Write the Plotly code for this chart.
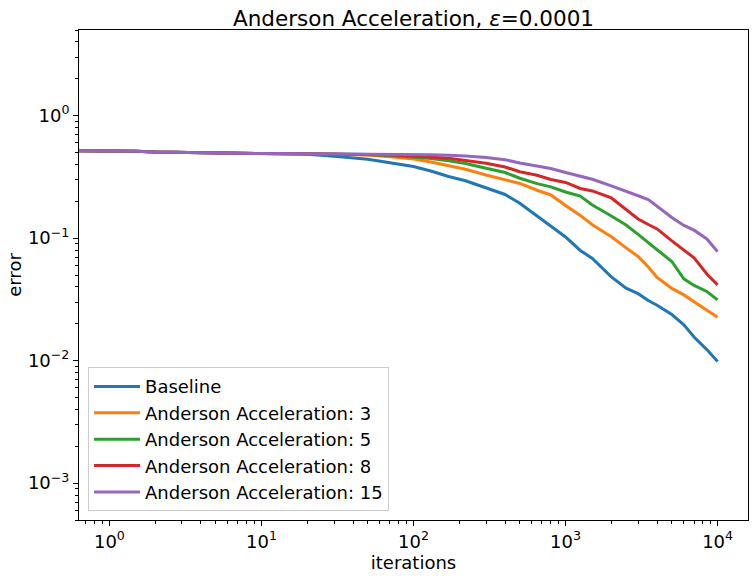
import plotly.graph_objects as go

# iterations (x) and error values
iterations = [0.6, 1, 1.5, 2, 3, 5, 10, 20, 30, 50, 70, 100, 130, 170, 220, 300, 400, 500,
              650, 800, 1000, 1250, 1500, 2000, 2500, 3000, 3500, 4000, 5000, 6000, 7000,
              8500, 10000]

early = [0.5173, 0.5173, 0.5115, 0.5048, 0.5000, 0.4926, 0.4908]

baseline = early + [0.4830, 0.4656, 0.4409, 0.4121, 0.3844, 0.3533, 0.3187, 0.2938, 0.2553,
                    0.2272, 0.1926, 0.1518, 0.1262, 0.1023, 0.0793, 0.0683, 0.0483, 0.0390,
                    0.0352, 0.0310, 0.0283, 0.0238, 0.0196, 0.0156, 0.0123, 0.00983]

aa3 = early + [0.4880, 0.4844, 0.4780, 0.4612, 0.4426, 0.4183, 0.3895, 0.3648, 0.3278,
               0.2984, 0.2794, 0.2459, 0.2251, 0.1848, 0.1532, 0.1286, 0.1026, 0.0832,
               0.0709, 0.0582, 0.0478, 0.0389, 0.0344, 0.0302, 0.0258, 0.0226]

aa5 = early + [0.4880, 0.4862, 0.4817, 0.4727, 0.4596, 0.4468, 0.4287, 0.4067, 0.3716,
               0.3435, 0.3081, 0.2783, 0.2620, 0.2380, 0.2201, 0.1866, 0.1518, 0.1281,
               0.1072, 0.0913, 0.0804, 0.0645, 0.0465, 0.0411, 0.0367, 0.0313]

aa8 = early + [0.4880, 0.4862, 0.4840, 0.4771, 0.4683, 0.4596, 0.4485, 0.4303, 0.4082,
               0.3808, 0.3480, 0.3258, 0.3012, 0.2847, 0.2543, 0.2427, 0.2128, 0.1714,
               0.1434, 0.1291, 0.1189, 0.0949, 0.0792, 0.0690, 0.0510, 0.0415]

aa15 = early + [0.4880, 0.4862, 0.4860, 0.4850, 0.4844, 0.4800, 0.4745, 0.4692, 0.4552,
                0.4368, 0.4106, 0.3880, 0.3703, 0.3435, 0.3187, 0.3023, 0.2666, 0.2390,
                0.2217, 0.2068, 0.1814, 0.1475, 0.1269, 0.1162, 0.0985, 0.0776]

series_names = ["Baseline", "Anderson Acceleration: 3", "Anderson Acceleration: 5",
                "Anderson Acceleration: 8", "Anderson Acceleration: 15"]
series_values = [baseline, aa3, aa5, aa8, aa15]
colors = ["#1f77b4", "#ff7f0e", "#2ca02c", "#d62728", "#9467bd"]

x_tick_vals = [1, 10, 100, 1000, 10000]
x_tick_text = ["10<sup>0</sup>", "10<sup>1</sup>", "10<sup>2</sup>", "10<sup>3</sup>", "10<sup>4</sup>"]
y_tick_vals = [0.001, 0.01, 0.1, 1]
y_tick_text = ["10<sup>\u22123</sup>", "10<sup>\u22122</sup>", "10<sup>\u22121</sup>", "10<sup>0</sup>"]

minor_x = [m * 10 ** e for e in range(-1, 5) for m in range(2, 10)]
minor_y = [m * 10 ** e for e in range(-4, 1) for m in range(2, 10)]

fig = go.Figure()
for name, vals, c in zip(series_names, series_values, colors):
    fig.add_trace(go.Scatter(x=iterations, y=vals, mode="lines", name=name,
                             line=dict(color=c, width=3)))

font = "DejaVu Sans, sans-serif"
axis_common = dict(type="log", showgrid=False, zeroline=False, showline=True,
                   linecolor="black", linewidth=1, mirror=True, ticks="outside",
                   ticklen=5, tickcolor="black", tickfont=dict(size=18, color="black"),
                   title_font=dict(size=18, color="black"), automargin=False)

fig.update_layout(
    width=755, height=576,
    margin=dict(l=79, r=7, t=30, b=56),
    paper_bgcolor="white", plot_bgcolor="white",
    font=dict(family=font, color="black"),
    title=dict(text="Anderson Acceleration, <i>\u03b5</i>=0.0001", x=0.5, xanchor="center",
               xref="paper", y=0.968, yanchor="middle", font=dict(size=21.5, color="black"),
               automargin=False),
    xaxis=dict(**axis_common, range=[-0.2, 4.2], tickvals=x_tick_vals, ticktext=x_tick_text,
               title=dict(text="iterations", standoff=0),
               minor=dict(tickvals=minor_x, ticks="outside", ticklen=3, tickcolor="black")),
    yaxis=dict(**axis_common, range=[-3.301, 0.699], tickvals=y_tick_vals, ticktext=y_tick_text,
               title=dict(text="error", standoff=1),
               minor=dict(tickvals=minor_y, ticks="outside", ticklen=3, tickcolor="black")),
    legend=dict(x=0.0135, y=0.018, xanchor="left", yanchor="bottom",
                bgcolor="rgba(255,255,255,0.8)", bordercolor="#cccccc", borderwidth=1,
                font=dict(size=18, color="black"), itemwidth=46, tracegroupgap=2),
    showlegend=True,
)

fig.write_html("out.html", post_script="document.body.style.margin='0px';",
               config={"displayModeBar": False})
